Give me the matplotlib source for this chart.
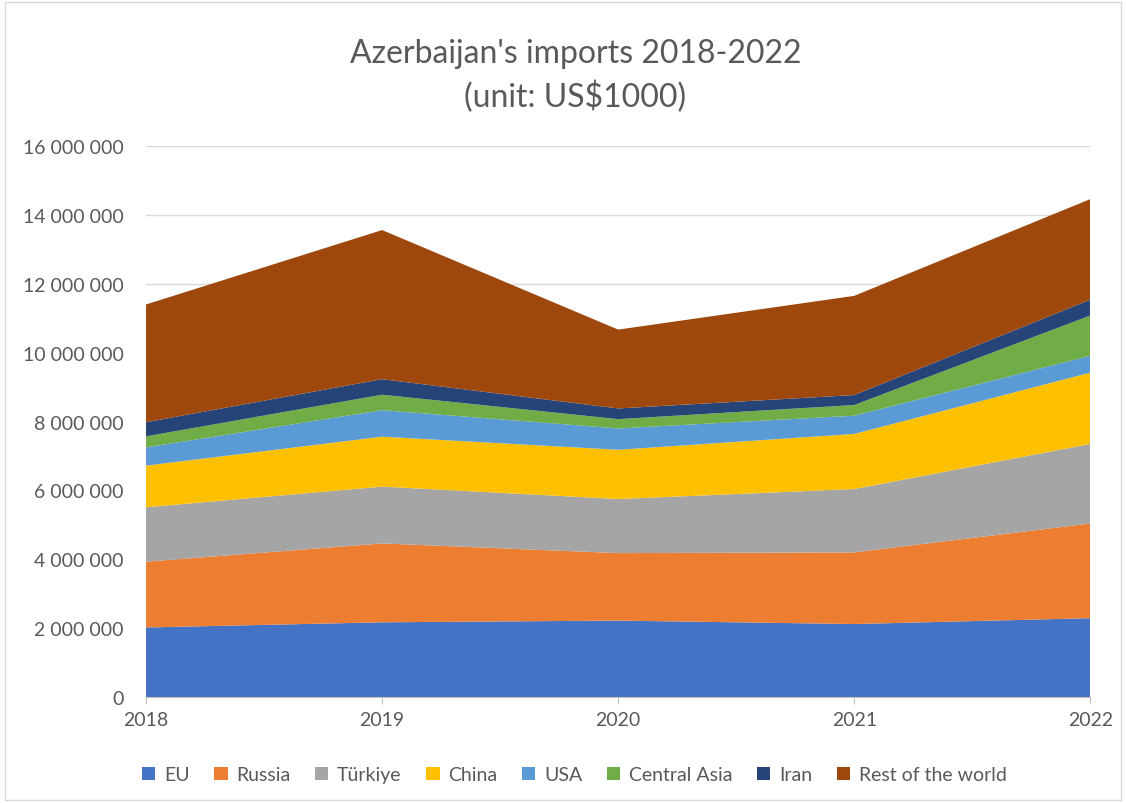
import matplotlib.pyplot as plt
import matplotlib.ticker as mticker
from matplotlib.patches import Rectangle
import numpy as np

plt.rcParams['font.family'] = ['Lato', 'DejaVu Sans']

years = [2018, 2019, 2020, 2021, 2022]
names = ['EU', 'Russia', 'Türkiye', 'China', 'USA', 'Central Asia', 'Iran', 'Rest of the world']
colors = ['#4472C4', '#ED7D31', '#A5A5A5', '#FFC000', '#5B9BD5', '#70AD47', '#264478', '#9E480E']

# values in US$1000
eu = [2020000, 2170000, 2220000, 2120000, 2290000]
russia = [1910000, 2290000, 1960000, 2080000, 2750000]
turkiye = [1580000, 1650000, 1570000, 1840000, 2310000]
china = [1210000, 1450000, 1430000, 1600000, 2070000]
usa = [530000, 770000, 620000, 530000, 490000]
central_asia = [320000, 450000, 270000, 310000, 1170000]
iran = [410000, 450000, 310000, 290000, 460000]
rest = [3420000, 4330000, 2290000, 2880000, 2920000]

series = [eu, russia, turkiye, china, usa, central_asia, iran, rest]

fig = plt.figure(figsize=(11.26, 8.04), dpi=100)
ax = fig.add_axes([0.1297, 0.1318, 0.8386, 0.6853])

ax.stackplot(years, *series, colors=colors, labels=names, linewidth=0)

ax.set_xlim(2018, 2022)
ax.set_ylim(0, 16000000)
ax.set_yticks(np.arange(0, 16000001, 2000000))
ax.set_xticks(years)
ax.yaxis.set_major_formatter(mticker.FuncFormatter(lambda v, p: '{:,.0f}'.format(v).replace(',', ' ')))
ax.grid(axis='y', color='#D9D9D9', linewidth=1)
ax.set_axisbelow(True)
for s in ['top', 'right', 'left']:
    ax.spines[s].set_visible(False)
ax.spines['bottom'].set_color('#BFBFBF')
ax.tick_params(axis='y', length=0, labelsize=14, labelcolor='#595959', pad=16)
ax.tick_params(axis='x', length=5, color='#BFBFBF', labelsize=14, labelcolor='#595959', pad=5)

fig.text(0.511, 0.905, "Azerbaijan's imports 2018-2022\n(unit: US$1000)", ha='center', va='center',
         fontsize=23, color='#595959', linespacing=1.45)

handles, labels = ax.get_legend_handles_labels()
fig.legend(handles, labels, loc='center', bbox_to_anchor=(0.51, 0.035), ncol=8, frameon=False,
           fontsize=14, labelcolor='#595959', handlelength=0.7, handleheight=0.7,
           handletextpad=0.45, columnspacing=1.25)

fig.patches.append(Rectangle((0.004, 0.004), 0.992, 0.992, transform=fig.transFigure,
                             fill=False, edgecolor='#D9D9D9', linewidth=1))

fig.savefig('out.png', dpi=100)
